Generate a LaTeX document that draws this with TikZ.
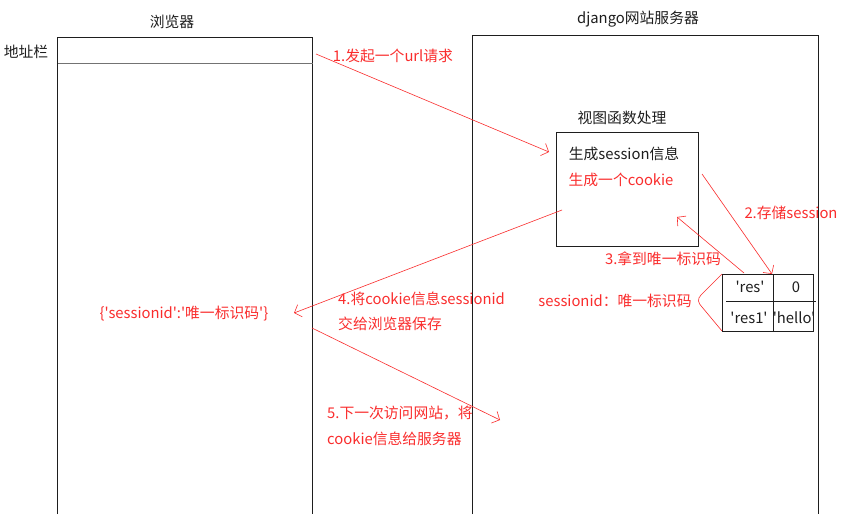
\documentclass[tikz,border=0pt]{standalone}
\usepackage{fontspec}
\newfontfamily\cn{Noto Sans CJK SC}
\usetikzlibrary{arrows.meta}
\definecolor{rd}{RGB}{250,45,45}
\definecolor{ln}{RGB}{30,30,30}
\begin{document}
\begin{tikzpicture}[x=1pt,y=-1pt,
  font=\cn\fontsize{14.8}{17}\selectfont,
  frame/.style={draw=ln, line width=0.9pt},
  txt/.style={inner sep=0pt, text=ln},
  rtxt/.style={inner sep=0pt, text=rd},
  conn/.style={draw=rd, line width=0.6pt, -{Straight Barb[length=6pt,width=13pt,line width=0.6pt]}},
  brk/.style={draw=rd, line width=0.6pt}]
\useasboundingbox[fill=white] (0,0) rectangle (842,514);
% browser
\draw[frame] (57,514) -- (57,37) -- (312,37) -- (312,514);
\draw[draw=gray!90!black, line width=1pt] (58,63) -- (313,63);
\node[txt] (tb) at (172,22) {浏览器};
\node[txt] (ta) at (26,52) {地址栏};
% server
\draw[frame] (472,514) -- (472,35) -- (818,35) -- (818,514);
\node[txt] (ts) at (638,19) {django网站服务器};
% view box
\node[frame, minimum width=142pt, minimum height=114pt, inner sep=0pt] (view) at (627,189) {};
\node[txt] (tv) at (622,118) {视图函数处理};
\node[txt] (g1) at (624,154) {生成session信息};
\node[rtxt] (g2) at (621,180) {生成一个cookie};
% table
\draw[frame, line width=0.8pt] (722,274) rectangle (813,331);
\draw[ln, line width=0.8pt] (773,274) -- (773,331);
\draw[ln, line width=0.8pt] (726,301) -- (816,301);
\node[txt] (c11) at (750,287) {'res'};
\node[txt] (c12) at (796,287) {0};
\node[txt] (c21) at (749,318) {'res1'};
\node[txt] (c22) at (794,318) {'hello'};
\coordinate (tabtl) at (722,274);
\coordinate (tabbl) at (722,331);
\node[rtxt] (sid) at (615,301) {sessionid：唯一标识码};
\draw[brk] (tabtl) -- (701,295) .. controls (697,299) and (698,303) .. (702,307) -- (tabbl);
% browser cookie
\node[rtxt] (bc) at (184,314) {\{'sessionid':'唯一标识码'\}};
% labels
\node[rtxt] (l1) at (393,56) {1.发起一个url请求};
\node[rtxt] (l2) at (791,213) {2.存储session};
\node[rtxt] (l3) at (663,259) {3.拿到唯一标识码};
\node[rtxt, anchor=west] (l4a) at (338,299) {4.将cookie信息sessionid};
\node[rtxt, anchor=west] (l4b) at (338,324) {交给浏览器保存};
\node[rtxt, anchor=west] (l5a) at (327,413) {5.下一次访问网站，将};
\node[rtxt, anchor=west] (l5b) at (327,439) {cookie信息给服务器};
% connector endpoints
\coordinate (a1s) at (316,54);
\coordinate (a1e) at (549,152);
\coordinate (a2s) at (702,174);
\coordinate (a2e) at (772,274);
\coordinate (a3s) at (744,273);
\coordinate (a3e) at (677,217);
\coordinate (a4s) at (562,210);
\coordinate (a4e) at (294,313);
\coordinate (a5s) at (312,328);
\coordinate (a5e) at (500,420);
\draw[conn] (a1s) -- (a1e);
\draw[conn] (a2s) -- (a2e);
\draw[conn] (a3s) -- (a3e);
\draw[conn] (a4s) -- (a4e);
\draw[conn] (a5s) -- (a5e);
\end{tikzpicture}
\end{document}
